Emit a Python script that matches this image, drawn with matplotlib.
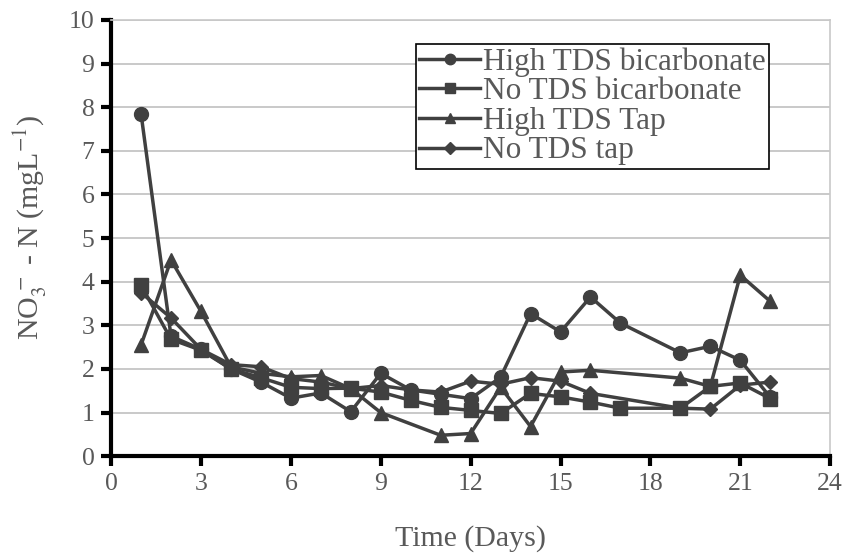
import numpy as np
import matplotlib.pyplot as plt

plt.rcParams['font.family'] = ['Liberation Serif', 'DejaVu Serif']
plt.rcParams['mathtext.fontset'] = 'stix'

# data
days_hb = [1, 2, 3, 4, 5, 6, 7, 8, 9, 10, 11, 12, 13, 14, 15, 16, 17, 19, 20, 21, 22]
high_bicarb = [7.85, 2.75, 2.45, 2.0, 1.7, 1.33, 1.45, 1.02, 1.9, 1.52, 1.42, 1.32, 1.81,
               3.27, 2.85, 3.65, 3.05, 2.37, 2.52, 2.2, 1.35]

days_nb = [1, 2, 3, 4, 5, 6, 7, 8, 9, 10, 11, 12, 13, 14, 15, 16, 17, 19, 20, 21, 22]
no_bicarb = [3.92, 2.68, 2.43, 2.0, 1.8, 1.58, 1.55, 1.56, 1.47, 1.28, 1.12, 1.05, 0.98,
             1.44, 1.36, 1.24, 1.1, 1.1, 1.6, 1.68, 1.32]

days_ht = [1, 2, 3, 4, 5, 6, 7, 8, 9, 11, 12, 13, 14, 15, 16, 19, 20, 21, 22]
high_tap = [2.55, 4.5, 3.32, 2.05, 1.9, 1.82, 1.85, 1.55, 1.0, 0.48, 0.52, 1.58, 0.68,
            1.93, 1.97, 1.79, 1.6, 4.15, 3.55]

days_nt = [1, 2, 3, 4, 5, 6, 7, 8, 9, 10, 11, 12, 13, 14, 15, 16, 19, 20, 21, 22]
no_tap = [3.75, 3.17, 2.45, 2.1, 2.05, 1.78, 1.7, 1.55, 1.62, 1.52, 1.47, 1.72, 1.65,
          1.8, 1.72, 1.44, 1.1, 1.08, 1.63, 1.7]

names = ['High TDS bicarbonate', 'No TDS bicarbonate', 'High TDS Tap', 'No TDS tap']

c = '#404040'
txt = '#595959'

fig = plt.figure(figsize=(8.48, 5.55), dpi=100)
ax = fig.add_axes([0.131, 0.178, 0.848, 0.786])

ax.plot(days_hb, high_bicarb, '-o', color=c, lw=2.5, ms=10, label=names[0])
ax.plot(days_nb, no_bicarb, '-s', color=c, lw=2.5, ms=10, label=names[1])
ax.plot(days_ht, high_tap, '-^', color=c, lw=2.5, ms=10, label=names[2])
ax.plot(days_nt, no_tap, '-D', color=c, lw=2.5, ms=7.5, label=names[3])

ax.set_xlim(0, 24)
ax.set_ylim(0, 10)
ax.set_xticks(np.arange(0, 25, 3))
ax.set_yticks(np.arange(0, 11, 1))
ax.grid(axis='y', color='#c0c0c0', lw=1.2)
ax.set_axisbelow(True)

for s in ['top', 'right']:
    ax.spines[s].set_color('#c8c8c8')
    ax.spines[s].set_linewidth(1.2)
for s in ['left', 'bottom']:
    ax.spines[s].set_color('black')
    ax.spines[s].set_linewidth(3)

ax.tick_params(axis='both', direction='out', length=7, width=3, color='black',
               labelsize=18.5, labelcolor=txt, pad=5)

ax.set_xlabel('Time (Days)', fontsize=21.5, color=txt, labelpad=22)
ax.set_ylabel(r'NO$_3^{\,-}$ - N (mgL$^{-1}$)', fontsize=21.5, color=txt)
ax.yaxis.set_label_coords(-0.087, 0.525)

leg = ax.legend(loc='upper left', bbox_to_anchor=(0.424, 0.945), fontsize=22.5,
                frameon=True, fancybox=False, edgecolor='black', framealpha=1,
                handlelength=1.95, handletextpad=0.1, borderpad=0.1,
                labelspacing=0.02, borderaxespad=0, markerscale=0.75)
leg.get_frame().set_linewidth(1.2)
for t in leg.get_texts():
    t.set_color(txt)

fig.savefig('out.png', dpi=100)
